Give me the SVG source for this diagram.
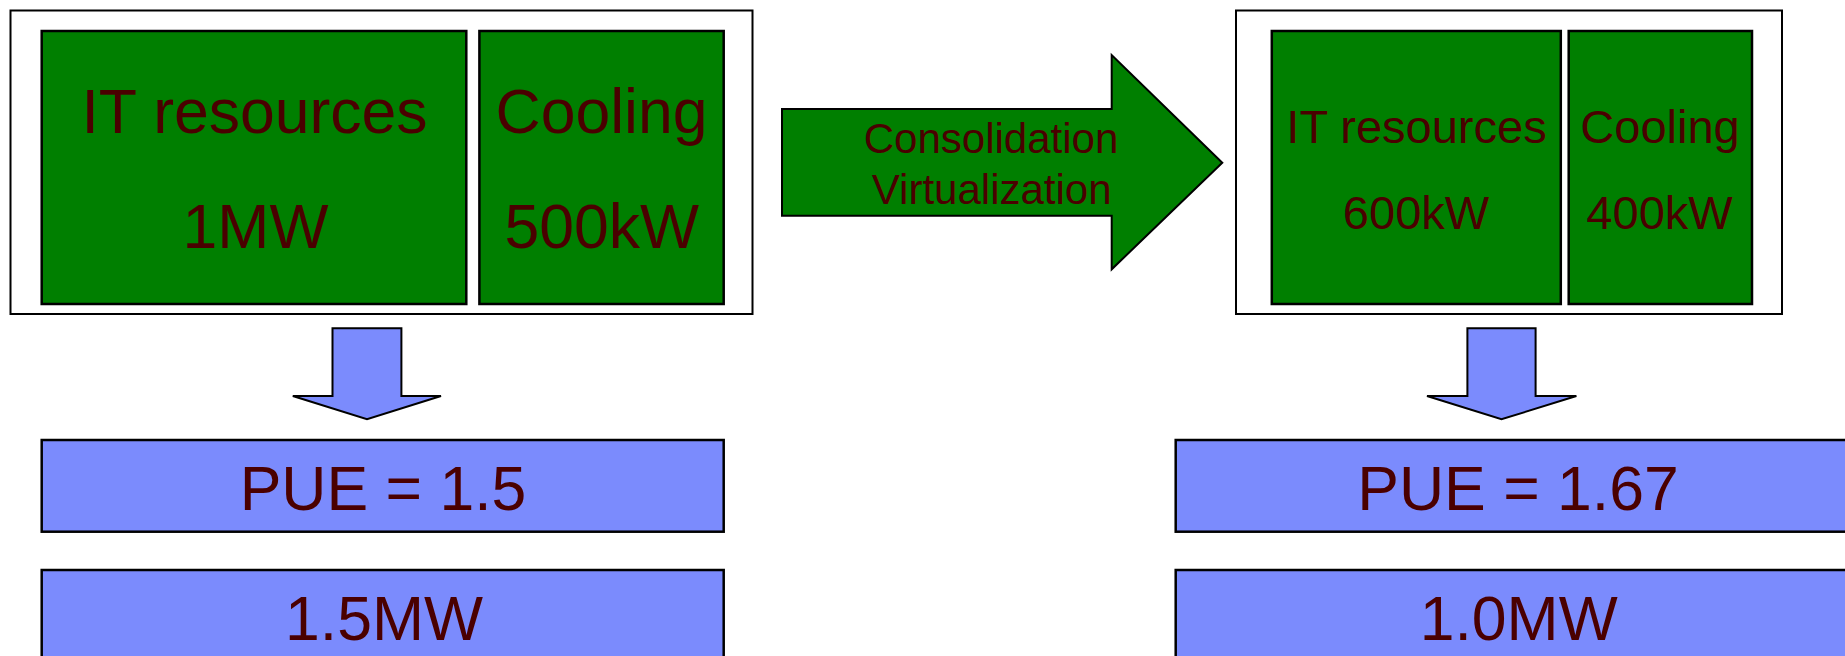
<svg xmlns="http://www.w3.org/2000/svg" width="1845" height="656" viewBox="0 0 1845 656">
  <style>
    .frame { fill: #ffffff; stroke: #000000; stroke-width: 2; }
    .unit { fill: #007f00; stroke: #000000; stroke-width: 2.5; }
    .result { fill: #7b8bfd; stroke: #000000; stroke-width: 2.5; }
    .flow { fill: #007f00; stroke: #000000; stroke-width: 2; stroke-linejoin: miter; }
    .down { fill: #7b8bfd; stroke: #000000; stroke-width: 2; stroke-linejoin: miter; }
    text { font-family: "Liberation Sans", Arial, sans-serif; fill: #4a0000; text-anchor: middle; }
    .big { font-size: 62.5px; }
    .mid { font-size: 47px; }
    .small { font-size: 42px; }
  </style>

  <rect width="1845" height="656" fill="#ffffff"/>

  <!-- before: data centre at full load -->
  <g id="before">
    <rect class="frame" x="10.5" y="10.5" width="742" height="303.5"/>
    <g id="before-it">
      <rect class="unit" x="41.7" y="31" width="424.6" height="273"/>
      <text class="big" x="254.5" y="133.3">IT resources</text>
      <text class="big" x="255.5" y="248.3">1MW</text>
    </g>
    <g id="before-cooling">
      <rect class="unit" x="479.4" y="31" width="244.3" height="273"/>
      <text class="big" x="601.5" y="133.3">Cooling</text>
      <text class="big" x="601.7" y="248.3">500kW</text>
    </g>
  </g>

  <!-- after: consolidated / virtualized -->
  <g id="after">
    <rect class="frame" x="1236" y="10.5" width="546" height="303.5"/>
    <g id="after-it">
      <rect class="unit" x="1271.8" y="31" width="289" height="273"/>
      <text class="mid" x="1416.5" y="142.7">IT resources</text>
      <text class="mid" x="1416" y="229.3">600kW</text>
    </g>
    <g id="after-cooling">
      <rect class="unit" x="1568.7" y="31" width="183.3" height="273"/>
      <text class="mid" x="1660" y="142.7">Cooling</text>
      <text class="mid" x="1659.5" y="229.3">400kW</text>
    </g>
  </g>

  <!-- results -->
  <g id="before-pue">
    <rect class="result" x="41.7" y="440" width="682" height="91.7"/>
    <text class="big" x="383" y="510">PUE = 1.5</text>
  </g>
  <g id="before-total">
    <rect class="result" x="41.7" y="570" width="682" height="100"/>
    <text class="big" x="384" y="640">1.5MW</text>
  </g>
  <g id="after-pue">
    <rect class="result" x="1175.7" y="440" width="690" height="91.7"/>
    <text class="big" x="1518" y="510">PUE = 1.67</text>
  </g>
  <g id="after-total">
    <rect class="result" x="1175.7" y="570" width="690" height="100"/>
    <text class="big" x="1518.7" y="640">1.0MW</text>
  </g>

  <!-- block arrows -->
  <g id="connectors">
    <g id="transition">
      <polygon class="flow" points="782,109 1111.7,109 1111.7,55 1222.3,162.7 1111.7,269.3 1111.7,215.7 782,215.7"/>
      <text class="small" x="991" y="153.3">Consolidation</text>
      <text class="small" x="991.7" y="204">Virtualization</text>
    </g>
    <polygon class="down" points="332.5,328.3 401.4,328.3 401.4,396 441,396 367,419.3 292.8,396 332.5,396"/>
    <polygon class="down" points="1467.4,328.3 1535.6,328.3 1535.6,396 1576.4,396 1501.5,419.3 1427,396 1467.4,396"/>
  </g>
</svg>
